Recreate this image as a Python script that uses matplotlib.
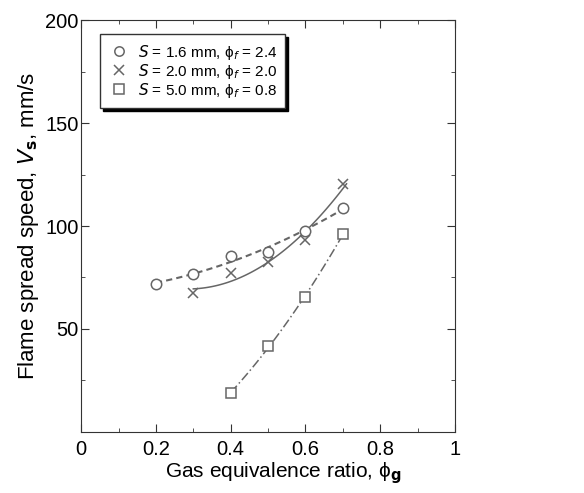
import numpy as np
import matplotlib.pyplot as plt
from matplotlib.ticker import MultipleLocator

plt.rcParams['font.family'] = ['Liberation Sans', 'DejaVu Sans']

# data
phi_circle = [0.2, 0.3, 0.4, 0.5, 0.6, 0.7]
vs_circle = [72, 76.5, 85.4, 87.5, 97.6, 108.9]

phi_cross = [0.3, 0.4, 0.5, 0.6, 0.7]
vs_cross = [67.5, 77.0, 82.7, 93.2, 120.2]

phi_square = [0.4, 0.5, 0.6, 0.7]
vs_square = [18.8, 41.7, 65.4, 96.1]

labels = [r'$S$ = 1.6 mm, ϕ$_f$ = 2.4',
          r'$S$ = 2.0 mm, ϕ$_f$ = 2.0',
          r'$S$ = 5.0 mm, ϕ$_f$ = 0.8']

gray = '#666666'

fig = plt.figure(figsize=(5.84, 4.93), dpi=100)
ax = fig.add_axes([0.139, 0.124, 0.640, 0.835])

# fitted curves through the data
def fit(x, y, deg, ls, lw):
    c = np.polyfit(x, y, deg)
    xs = np.linspace(min(x), max(x) + 0.01, 100)
    ax.plot(xs, np.polyval(c, xs), color=gray, ls=ls, lw=lw)

fit(phi_circle, vs_circle, 2, (0, (3, 2)), 1.5)
fit(phi_cross, vs_cross, 2, '-', 1.1)
fit(phi_square, vs_square, 2, (0, (6, 2, 1, 2)), 1.1)

h1, = ax.plot(phi_circle, vs_circle, 'o', ms=7.5, mfc='white', mec=gray, mew=1.1)
h2, = ax.plot(phi_cross, vs_cross, 'x', ms=7.5, mec=gray, mew=1.1)
h3, = ax.plot(phi_square, vs_square, 's', ms=7.5, mfc='white', mec=gray, mew=1.1)

ax.set_xlim(0, 1)
ax.set_ylim(0, 200)
ax.set_xticks([0, 0.2, 0.4, 0.6, 0.8, 1])
ax.set_xticklabels(['0', '0.2', '0.4', '0.6', '0.8', '1'])
ax.set_yticks([50, 100, 150, 200])
ax.xaxis.set_minor_locator(MultipleLocator(0.1))
ax.yaxis.set_minor_locator(MultipleLocator(25))
ax.tick_params(which='both', direction='in', top=True, right=True,
               labelsize=14.5, color='#333333')
ax.tick_params(axis='x', pad=6)
ax.tick_params(axis='y', pad=2)
ax.tick_params(which='major', length=6)
ax.tick_params(which='minor', length=3)
for s in ax.spines.values():
    s.set_color('#333333')

ax.set_xlabel('Gas equivalence ratio, ϕ$_\\mathbf{g}$', fontsize=15)
ax.xaxis.set_label_coords(0.54, -0.07)
ax.set_ylabel('Flame spread speed, $V_\\mathbf{s}$, mm/s', fontsize=16, labelpad=3)

leg = ax.legend([h1, h2, h3], labels, loc='upper left',
                bbox_to_anchor=(0.051, 0.966), borderaxespad=0,
                fontsize=11, frameon=True,
                fancybox=False, shadow={'color': 'black', 'alpha': 1},
                handletextpad=0.6, labelspacing=0.0, borderpad=0.55,
                handlelength=1.3, markerscale=0.9)
leg.get_frame().set_edgecolor('#333333')
leg.get_frame().set_linewidth(1.0)

fig.savefig('out.png', dpi=100)
